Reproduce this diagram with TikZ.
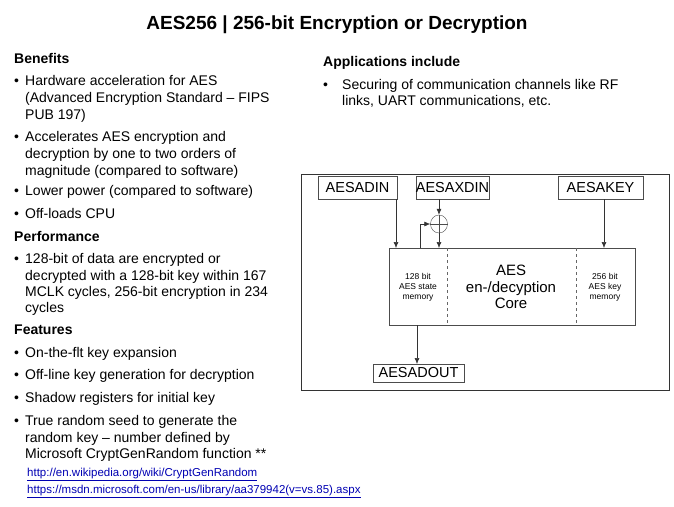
\documentclass[tikz,border=0pt]{standalone}
\usepackage{fontspec}
\usetikzlibrary{shapes.geometric,arrows.meta}
\setmainfont{Liberation Sans}
\begin{document}
\begin{tikzpicture}[x=1pt,y=-1pt,
  txt/.style={anchor=base west,inner sep=0pt,font=\fontsize{14}{16}\selectfont},
  hd/.style={txt,font=\fontsize{14}{16}\selectfont\bfseries},
  lnk/.style={anchor=base west,inner sep=0pt,font=\fontsize{11.5}{13}\selectfont,text=blue!70!black},
  blk/.style={draw=black!70,fill=white,inner sep=0pt,font=\fontsize{14.5}{15}\selectfont},
  arr/.style={draw=black!80,-{Latex[length=6pt,width=5pt]},line width=0.6pt}]
\useasboundingbox (0,0) rectangle (674,506);
\node[anchor=base,inner sep=0pt,font=\fontsize{19}{22}\selectfont\bfseries] (title) at (337,29) {AES256 | 256-bit Encryption or Decryption};
% left column
\node[hd] (h1) at (14,63) {Benefits};
\node[txt] (b1) at (14,85) {•};
\node[txt] (t1a) at (25,85) {Hardware acceleration for AES};
\node[txt] (t1b) at (25,102) {(Advanced Encryption Standard – FIPS};
\node[txt] (t1c) at (25,119) {PUB 197)};
\node[txt] (b2) at (14,141) {•};
\node[txt] (t2a) at (25,141) {Accelerates AES encryption and};
\node[txt] (t2b) at (25,158) {decryption by one to two orders of};
\node[txt] (t2c) at (25,175) {magnitude (compared to software)};
\node[txt] (b3) at (14,195) {•};
\node[txt] (t3) at (25,195) {Lower power (compared to software)};
\node[txt] (b4) at (14,218) {•};
\node[txt] (t4) at (25,218) {Off-loads CPU};
\node[hd] (h2) at (14,241) {Performance};
\node[txt] (b5) at (14,263) {•};
\node[txt] (t5a) at (25,263) {128-bit of data are encrypted or};
\node[txt] (t5b) at (25,280) {decrypted with a 128-bit key within 167};
\node[txt] (t5c) at (25,296) {MCLK cycles, 256-bit encryption in 234};
\node[txt] (t5d) at (25,312) {cycles};
\node[hd] (h3) at (14,334) {Features};
\node[txt] (b6) at (14,357) {•};
\node[txt] (t6) at (25,357) {On-the-flt key expansion};
\node[txt] (b7) at (14,379) {•};
\node[txt] (t7) at (25,379) {Off-line key generation for decryption};
\node[txt] (b8) at (14,402) {•};
\node[txt] (t8) at (25,402) {Shadow registers for initial key};
\node[txt] (b9) at (14,425) {•};
\node[txt] (t9a) at (25,425) {True random seed to generate the};
\node[txt] (t9b) at (25,442) {random key – number defined by};
\node[txt] (t9c) at (25,458) {Microsoft CryptGenRandom function **};
\node[lnk] (l1) at (27,476) {\underline{http://en.wikipedia.org/wiki/CryptGenRandom}};
\node[lnk] (l2) at (27,493) {\underline{https://msdn.microsoft.com/en-us/library/aa379942(v=vs.85).aspx}};
% right column
\node[hd] (h4) at (323,66) {Applications include};
\node[txt] (b10) at (323,89) {•};
\node[txt] (t10a) at (342,89) {Securing of communication channels like RF};
\node[txt] (t10b) at (342,105) {links, UART communications, etc.};
% diagram
\draw[black!80,line width=0.8pt] (301,174) rectangle (669,390);
\node[blk,minimum width=79pt,minimum height=23pt] (din) at (357.5,187.5) {AESADIN};
\node[blk,minimum width=59pt,minimum height=23pt] (xdin) at (452.5,187.5) {AESAXDIN};
\node[blk,minimum width=85pt,minimum height=23pt] (key) at (600.5,187.5) {AESAKEY};
\node[blk,minimum width=246pt,minimum height=77pt] (core) at (512,286.5) {};
\node[blk,minimum width=91pt,minimum height=18pt] (dout) at (418.5,373) {AESADOUT};
\draw[black!60,dashed,line width=0.8pt] (447,248) -- (447,325);
\draw[black!60,dashed,line width=0.8pt] (576,248) -- (576,325);
\node[inner sep=0pt,align=center,font=\fontsize{8.5}{10}\selectfont] (st) at (418,287) {128 bit\\AES state\\memory};
\node[inner sep=0pt,align=center,font=\fontsize{15}{16.5}\selectfont] (cc) at (511,287) {AES\\en-/decyption\\Core};
\node[inner sep=0pt,align=center,font=\fontsize{8.5}{10}\selectfont] (km) at (605,287) {256 bit\\AES key\\memory};
\node[draw=black!70,ellipse,minimum width=17pt,minimum height=18pt,inner sep=0pt] (xor) at (439,224) {};
\draw[black!70] (xor.north) -- (xor.south) (xor.west) -- (xor.east);
\coordinate (a1) at (396,199); \coordinate (a1e) at (396,248);
\coordinate (a2) at (439,199); \coordinate (a2e) at (439,248);
\coordinate (fb0) at (420,248); \coordinate (fb1) at (420,224);
\coordinate (k1) at (604,199); \coordinate (k1e) at (604,248);
\coordinate (o1) at (417,325); \coordinate (o1e) at (417,364);
\draw[arr] (a1) -- (a1e);
\draw[arr] (a2) -- (xor.north);
\draw[arr] (xor.south) -- (a2e);
\draw[arr] (fb0) -- (fb1) -- (xor.west);
\draw[arr] (k1) -- (k1e);
\draw[arr] (o1) -- (o1e);
\end{tikzpicture}
\end{document}
